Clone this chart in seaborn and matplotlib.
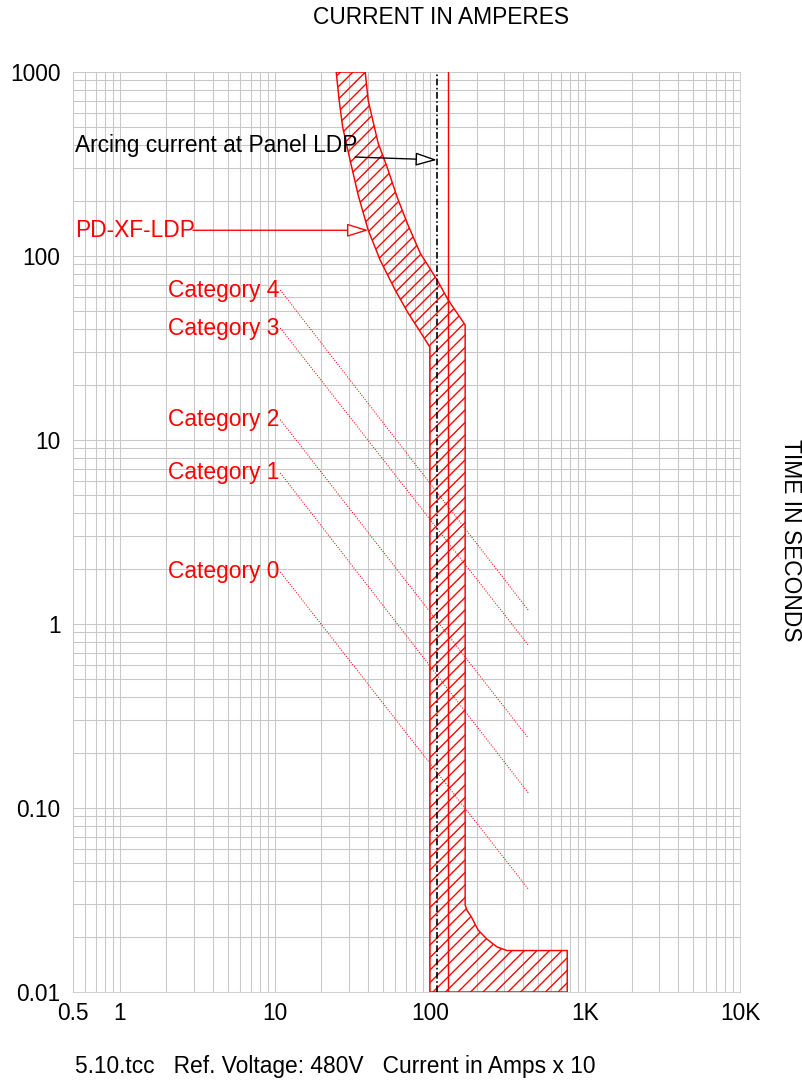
import numpy as np
import pandas as pd
import matplotlib.pyplot as plt
import seaborn as sns
from matplotlib.ticker import LogLocator, NullFormatter

# fuse band PD-XF-LDP (amps x10, seconds)
melt_amps = [24.9, 26.0, 27.4, 30.6, 34.5, 40.0, 47.8, 59.7, 72.4, 85.3, 100, 100]
melt_secs = [1000, 704, 502, 332, 214.6, 138.5, 95.1, 65.4, 49.0, 39.6, 32.0, 0.01]
clear_amps = [38.3, 40.0, 42.4, 46.4, 53.0, 61.5, 71.4, 86.6, 111.4, 131.3, 168.9,
              168.9, 173.3, 186.6, 204.9, 233.2, 270.5, 314, 769, 769]
clear_secs = [1000, 704, 569, 411, 304.5, 209.3, 151.1, 103.8, 74.1, 57.7, 42.2,
              0.0297, 0.0279, 0.0253, 0.0217, 0.0194, 0.0176, 0.0168, 0.0168, 0.01]

arc_current = 111
fuse_vertical = 131

# PPE category lines
cat_labels = ['Category 4', 'Category 3', 'Category 2', 'Category 1', 'Category 0']
cat_start_amps = [10.85, 10.85, 10.85, 10.85, 10.85]
cat_end_amps = [431, 431, 431, 431, 431]
cat_start_secs = [65.3, 40.6, 12.9, 6.62, 1.92]
cat_end_secs = [1.19, 0.769, 0.240, 0.121, 0.0363]

x_ticks = [0.5, 1, 10, 100, 1000, 10000]
x_tick_labels = ['0.5', '1', '10', '100', '1K', '10K']
y_ticks = [0.01, 0.1, 1, 10, 100, 1000]
y_tick_labels = ['0.01', '0.10', '1', '10', '100', '1000']

sns.set_style('white')
plt.rcParams['font.family'] = ['Liberation Sans', 'DejaVu Sans']
plt.rcParams['text.color'] = 'black'
plt.rcParams['xtick.color'] = 'black'
plt.rcParams['ytick.color'] = 'black'
plt.rcParams['hatch.linewidth'] = 1.3
fs = 21.8

fig = plt.figure(figsize=(802 / 75, 1080 / 75), dpi=75)
ax = fig.add_axes([73 / 802, 1 - 992 / 1080, 667 / 802, 920 / 1080])
ax.set_xscale('log')
ax.set_yscale('log')
ax.set_xlim(0.5, 10000)
ax.set_ylim(0.01, 1000)

ax.set_xticks(x_ticks, labels=x_tick_labels)
ax.set_yticks(y_ticks, labels=y_tick_labels)
ax.xaxis.set_minor_locator(LogLocator(base=10, subs=np.arange(2, 10), numticks=30))
ax.yaxis.set_minor_locator(LogLocator(base=10, subs=np.arange(2, 10), numticks=30))
ax.xaxis.set_minor_formatter(NullFormatter())
ax.yaxis.set_minor_formatter(NullFormatter())
ax.tick_params(which='both', length=0, labelsize=fs)
ax.tick_params(axis='x', pad=10)
ax.tick_params(axis='y', pad=12)
ax.grid(which='both', color='#c8c8c8', lw=1.0)
ax.set_axisbelow(True)
for s in ax.spines.values():
    s.set_color('#c8c8c8')

# hatched fuse band
band_x = melt_amps + clear_amps[::-1]
band_y = melt_secs + clear_secs[::-1]
ax.fill(band_x, band_y, facecolor='none', edgecolor='red', hatch='//', lw=1.4, zorder=3)

ax.axvline(fuse_vertical, color='red', lw=1.4, zorder=3)
ax.axvline(arc_current, color='black', lw=1.6, linestyle=(0, (4, 1.5, 1, 1.5)), zorder=4)

# category lines
rows = []
for lab, xa, xb, ya, yb in zip(cat_labels, cat_start_amps, cat_end_amps, cat_start_secs, cat_end_secs):
    rows.append({'cat': lab, 'amps': xa, 'secs': ya})
    rows.append({'cat': lab, 'amps': xb, 'secs': yb})
cat_df = pd.DataFrame(rows)
sns.lineplot(data=cat_df, x='amps', y='secs', units='cat', estimator=None, sort=False,
             color='red', lw=1.0, linestyle=(0, (1, 1.5)), legend=False, ax=ax, zorder=5)
for lab, xa, ya in zip(cat_labels, cat_start_amps, cat_start_secs):
    ax.text(2.05, ya, lab, color='red', fontsize=fs, ha='left', va='center')
ax.set_xlabel('')
ax.set_ylabel('')

# annotations
ax.text(0.515, 401, 'Arcing current at Panel LDP', color='black', fontsize=fs, ha='left', va='center')
ax.annotate('', xy=(arc_current, 333), xytext=(33.0, 345),
            arrowprops=dict(arrowstyle='-|>,head_length=0.8,head_width=0.25', fc='white', ec='black',
                            lw=1.3, mutation_scale=22, shrinkA=0, shrinkB=0), zorder=6)
ax.text(0.515, 138, 'PD-XF-LDP', color='red', fontsize=fs, ha='left', va='center')
ax.annotate('', xy=(40.1, 138), xytext=(2.97, 138),
            arrowprops=dict(arrowstyle='-|>,head_length=0.8,head_width=0.25', fc='white', ec='red',
                            lw=1.3, mutation_scale=22, shrinkA=0, shrinkB=0), zorder=6)

fig.text(441 / 802, 1 - 18 / 1080, 'CURRENT IN AMPERES', fontsize=fs, ha='center', va='center')
fig.text(790 / 802, 1 - 540 / 1080, 'TIME IN SECONDS', fontsize=fs, ha='center', va='center', rotation=-90)
fig.text(75 / 802, 1 - 1067 / 1080, '5.10.tcc   Ref. Voltage: 480V   Current in Amps x 10',
         fontsize=fs, ha='left', va='center')

fig.savefig('out.png', dpi=75)
